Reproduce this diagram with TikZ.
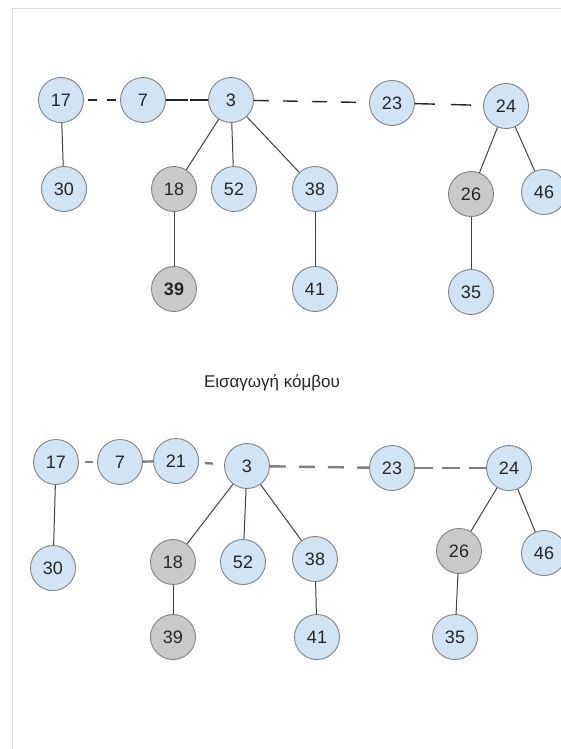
\documentclass[tikz,border=0pt]{standalone}
\usepackage{fontspec}
\setmainfont{Liberation Sans}
\usepackage{tikz}
\usetikzlibrary{arrows.meta,positioning,calc}

\definecolor{keyblue}{RGB}{208,228,244}
\definecolor{markgray}{RGB}{201,201,201}
\definecolor{rimgray}{RGB}{130,130,130}
\definecolor{framegray}{RGB}{218,218,218}

\begin{document}
\begin{tikzpicture}[x=1pt, y=-1pt,
    key/.style={circle, draw=rimgray, line width=0.9pt, fill=keyblue, minimum size=45pt,
        inner sep=0pt, text=black!85, font=\fontsize{18}{20}\selectfont},
    marked/.style={key, fill=markgray},
    child/.style={draw=black!75, line width=1pt},
    rootlink/.style={draw=black!85, line width=1.4pt, dash pattern=on 15pt off 14pt},
    newlink/.style={draw=black!50, line width=2.4pt, dash pattern=on 16pt off 13pt}]
    \useasboundingbox (0,0) rectangle (561,749);

    % Frame
    \draw[framegray, line width=1pt] (12.5,749) -- (12.5,9) -- (561,9);

    % Heap before the insertion: roots
    \node[key] (t17) at (61,100) {17};
    \node[key] (t7)  at (143,100) {7};
    \node[key] (t3)  at (231,100) {3};
    \node[key] (t23) at (392,103) {23};
    \node[key] (t24) at (506,106) {24};

    % children
    \node[key]    (t30) at (64,189) {30};
    \node[marked] (t18) at (174,189) {18};
    \node[key]    (t52) at (234,189) {52};
    \node[key]    (t38) at (315,189) {38};
    \node[marked] (t26) at (471,194) {26};
    \node[key]    (t46) at (544,192) {46};
    \node[marked] (t39) at (174,289) {\textbf{39}};
    \node[key]    (t41) at (315,289) {41};
    \node[key]    (t35) at (471,292) {35};

    % Root list
    \draw[rootlink, dash pattern=on 9pt off 10pt, dash phase=-4pt] (t17) -- (t7);
    \draw[rootlink, dash pattern=on 22pt off 2pt] (t7) -- (t3);
    \draw[rootlink] (t3) -- (t23);
    \draw[rootlink, dash pattern=on 20pt off 16pt] (t23) -- (t24);

    % Tree edges
    \draw[child] (t17) -- (t30);
    \draw[child] (t3) -- (t18);
    \draw[child] (t3) -- (t52);
    \draw[child] (t3) -- (t38);
    \draw[child] (t18) -- (t39);
    \draw[child] (t38) -- (t41);
    \draw[child] (t24) -- (t26);
    \draw[child] (t24) -- (t46);
    \draw[child] (t26) -- (t35);

    % Caption
    \node[font=\fontsize{17}{19}\selectfont, text=black!85] (caption) at (272,383) {Εισαγωγή κόμβου};

    % Heap after the insertion: roots
    \node[key] (b17) at (56,462) {17};
    \node[key] (b7)  at (120,462) {7};
    \node[key] (b21) at (176,461) {21};
    \node[key] (b3)  at (247,466) {3};
    \node[key] (b23) at (392,468) {23};
    \node[key] (b24) at (509,468) {24};

    % children
    \node[key]    (b30) at (53,568) {30};
    \node[marked] (b18) at (173,562) {18};
    \node[key]    (b52) at (243,562) {52};
    \node[key]    (b38) at (315,559) {38};
    \node[marked] (b26) at (459,551) {26};
    \node[key]    (b46) at (544,553) {46};
    \node[marked] (b39) at (173,637) {39};
    \node[key]    (b41) at (317,637) {41};
    \node[key]    (b35) at (455,637) {35};

    % Root list
    \draw[newlink, dash pattern=on 8pt off 20pt, dash phase=-6pt] (b17) -- (b7);
    \draw[newlink] (b7) -- (b21);
    \draw[newlink, dash pattern=on 8pt off 20pt, dash phase=-6pt] (b21) -- (b3);
    \draw[newlink] (b3) -- (b23);
    \draw[newlink, dash pattern=on 18pt off 9pt] (b23) -- (b24);

    % Tree edges
    \draw[child] (b17) -- (b30);
    \draw[child] (b3) -- (b18);
    \draw[child] (b3) -- (b52);
    \draw[child] (b3) -- (b38);
    \draw[child] (b18) -- (b39);
    \draw[child] (b38) -- (b41);
    \draw[child] (b24) -- (b26);
    \draw[child] (b24) -- (b46);
    \draw[child] (b26) -- (b35);
\end{tikzpicture}
\end{document}
